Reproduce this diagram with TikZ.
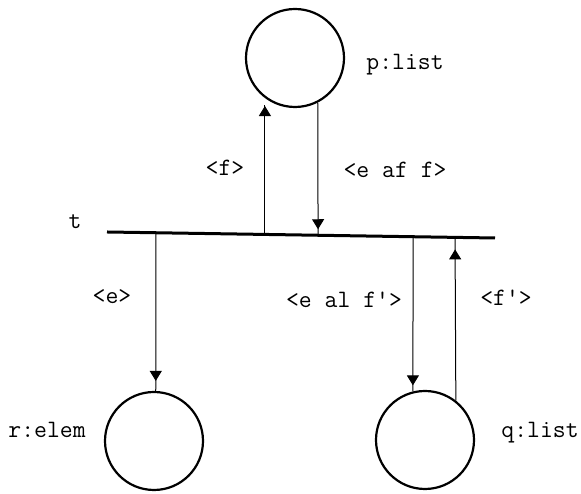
\documentclass[tikz,border=0pt]{standalone}
\usepackage{fontspec}
\usetikzlibrary{arrows.meta,decorations.markings,calc}
\begin{document}
\begin{tikzpicture}[x=1pt,y=1pt,
  place/.style={circle,draw,line width=2.2pt,minimum size=98pt,inner sep=0pt},
  lbl/.style={font=\ttfamily\fontsize{25}{25}\selectfont,inner sep=0pt},
  flow/.style={line width=1pt,postaction={decorate},
    decoration={markings,mark=at position #1 with {\arrow{Triangle[length=10pt,width=12pt]}}}},
  trans/.style={line width=3pt}
]
\useasboundingbox (0,0) rectangle (581,494);
% places
\node[place] (p) at (295,436) {};
\node[place] (r) at (154,53) {};
\node[place] (q) at (425,54) {};
% transition bar
\coordinate (tl) at (107,262);
\coordinate (tr) at (495,256);
\draw[trans] (tl) -- (tr);
\coordinate (b1) at ($(tl)!0.407!(tr)$);
\coordinate (b2) at ($(tl)!0.544!(tr)$);
\coordinate (b3) at ($(tl)!0.126!(tr)$);
\coordinate (b4) at ($(tl)!0.789!(tr)$);
\coordinate (b5) at ($(tl)!0.897!(tr)$);
% connectors
\draw[flow=-8pt, shorten >=7pt] (b1) -- (b1 |- p.233);
\draw[flow=-6pt] (p.297) -- (b2);
\draw[flow=-10pt] (b3) -- (r.88);
\draw[flow=-6pt] (b4) -- (q.104);
\draw[flow=-12pt] (q.52) -- (b5);
% labels
\node[lbl] (lt) at (75,272) {t};
\node[lbl] (lf) at (225,326) {<f>};
\node[lbl] (leaff) at (395,324) {<e af f>};
\node[lbl] (le) at (112,197) {<e>};
\node[lbl] (lealf) at (344,194) {<e al f'>};
\node[lbl] (lfp) at (506,196) {<f'>};
\node[lbl] (lp) at (405,429) {p:list};
\node[lbl] (lr) at (47,64) {r:elem};
\node[lbl] (lq) at (540,61) {q:list};
\end{tikzpicture}
\end{document}
